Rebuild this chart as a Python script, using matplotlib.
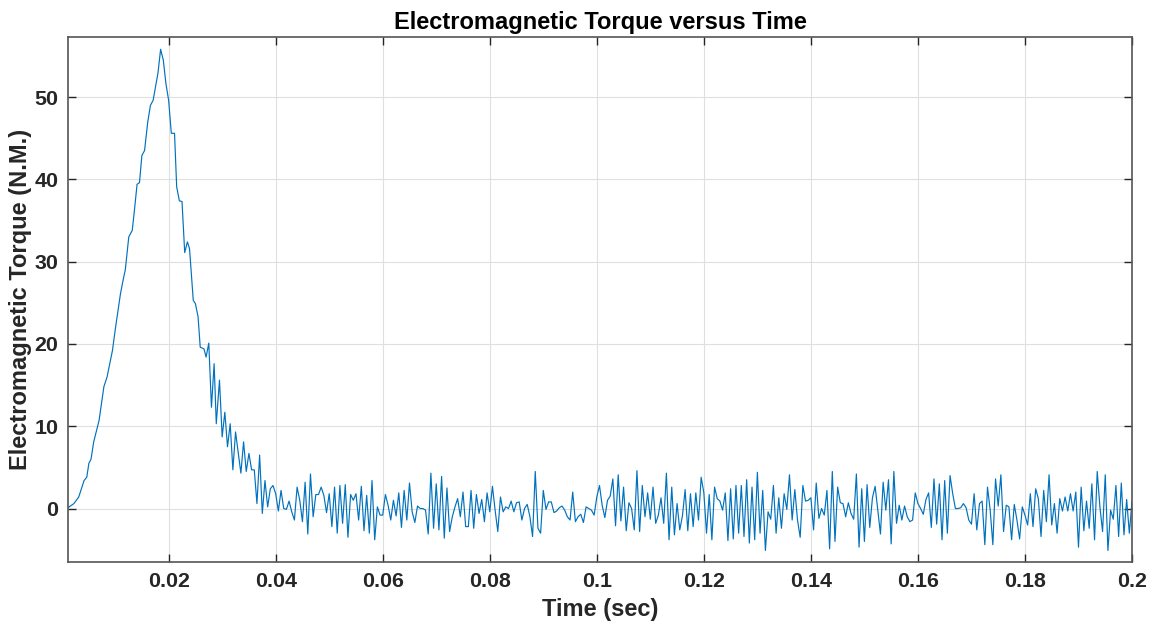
import numpy as np
import matplotlib
matplotlib.use("Agg")
import matplotlib.pyplot as plt
from matplotlib.ticker import FormatStrFormatter

# start-up transient
t_start = [0.0012, 0.0023, 0.0032, 0.0042, 0.0047, 0.0051, 0.0055, 0.0060, 0.0070, 0.0079,
           0.0085, 0.0095, 0.0101, 0.0110, 0.0116, 0.0119, 0.0123, 0.01255, 0.0132, 0.0136,
           0.0141, 0.01455, 0.0150, 0.0155, 0.0161, 0.0166, 0.0171, 0.0180, 0.0185, 0.0190,
           0.0195, 0.0200, 0.0205, 0.0211, 0.0215, 0.0220, 0.0225, 0.0230, 0.0235, 0.0239,
           0.0246, 0.0250, 0.0255, 0.0259, 0.0266, 0.0270, 0.0275, 0.0280, 0.0285, 0.0289,
           0.0295, 0.0300, 0.0305, 0.0310, 0.0315, 0.0320, 0.0325, 0.0335, 0.0340, 0.0345,
           0.0350, 0.0355, 0.0360, 0.0365, 0.0370, 0.0375, 0.0380, 0.0385, 0.0390, 0.0395]
torque_start = [0.1, 0.6, 1.4, 3.4, 3.8, 5.5, 6.0, 8.1, 10.7, 14.8,
                16.0, 19.2, 22.1, 26.1, 28.1, 29.0, 31.4, 33.0, 33.8, 36.2,
                39.4, 39.6, 42.9, 43.5, 47.0, 49.0, 49.6, 52.9, 55.8, 54.5,
                51.6, 49.6, 45.6, 45.6, 39.1, 37.4, 37.3, 31.1, 32.4, 31.6,
                25.3, 24.9, 23.3, 19.6, 19.4, 18.4, 20.1, 12.3, 17.6, 10.3,
                15.6, 8.7, 11.7, 7.5, 10.3, 4.7, 9.3, 4.3, 8.1, 4.5,
                6.7, 4.7, 4.7, 0.6, 6.5, -0.6, 3.4, 0.2, 2.4, 2.8]

# steady-state ripple, one sample every 0.5 ms from t = 0.04 s
dt = 0.0005
t_ripple0 = 0.04
torque_ripple = [
    1.8, -0.3, 2.2, 0, -0.1, 0.9, -0.4, -1.4, 2.6, 1.0, -1.6, 3.2, -3.1, 4.2, -1.0, 1.7,
    1.7, 2.6, 1.6, -0.5, 1.8, -2.2, 2.6, -3.0, 2.8, -1.8, 2.9, -3.5, 1.7, 1.0, 1.8, -1.4,
    2.7, -2.7, 1.6, -3.0, 3.4, -3.8, 0.2, -0.8, -0.8, 1.7, 0.4, -1.4, 1.0, -0.9, 1.9,
    -2.3, 2.2, -1.4, 3.1, -0.4, -1.7, 0.3, 0, 0, -0.2, -3.1, 4.3, -2.4, 3.0, -2.6, 3.9,
    -3.6, 2.5, -2.8, -1.0, 0.2, 1.2, -1.0, 2.0, -2.2, -2.2, 2.2, -2.4, 1.7, -0.6, 1.1,
    -1.6, 1.9, -0.4, 2.7, -0.2, -2.8, 1.4, -0.4, 0.2, 0, 0.9, -0.4, 0.7, 0.8, -1.4, 0,
    0.5, -1.0, -3.4, 4.5, -2.4, -3.0, 2.2, -0.1, 0.8, 0.8, -0.5, -0.3, 0.1, 0.3, -0.2, -1.0,
    -1.4, 2.0, -1.6, -1.0, -0.7, -1.7, 0.2, 0, -0.2, -0.8, 1.4, 2.8, 0.4, -1.1, 1.0, 1.5,
    3.6, -2.1, 4.1, -1.5, 2.6, -2.7, 0.7, 0, -2.6, 4.6, -2.8, 2.8, -1.0, 1.9, -1.3, 2.6,
    -1.8, -0.8, 1.3, -1.8, 4.3, -3.8, 2.6, -3.2, 0.6, -2.6, -0.9, 2.3, -2.7, 1.8, -2.2, 1.9,
    -1.4, 3.8, 1.9, -3.0, 1.7, -3.8, 2.6, 1.2, 0.9, -0.2, 1.9, -3.9, 2.4, -3.7, 2.8, -3.0,
    2.8, -3.4, 3.5, -4.2, 2.6, -3.8, 4.4, -3.0, 2.2, -5.1, -0.4, -1.3, 2.8, -3.0, 1.3, -2.4,
    1.8, -0.1, 4.1, -1.4, 2.3, -1.4, -3.5, 2.8, 0.9, 1.0, 1.3, -2.6, 3.1, -1.2, 0, -0.8,
    2.2, -4.9, 4.5, -4.0, 2.6, 0.7, 0.6, -1.0, 0.7, -0.6, -1.3, 4.2, -4.7, 2.4, -4.0, 2.9,
    -2.3, 1.3, 2.7, -0.2, -3.1, 3.2, -0.2, 3.5, -4.3, 4.5, -1.8, 0.4, -1.4, 0.3, -1.0, -1.6,
    -1.4, 1.9, 0.6, 0, -0.7, 1.1, 1.9, -2.3, 3.6, -1.9, 3.0, -3.8, 3.4, -3.0, 4.0, 1.8,
    0, 0, 0.1, 0.6, 0.1, -1.4, -1.9, 1.8, -2.6, 0.6, 0.9, -4.4, 2.6, -0.2, -4.4, 3.6,
    0.3, 4.1, -2.8, 0.4, 0.2, -3.8, 0.5, -1.4, -3.7, 0.2, -0.8, -2.0, 1.8, -2.2, 2.4, 1.2,
    -3.4, 2.2, -1.6, 4.1, -2.0, 0.6, -3.0, 1.2, -0.3, 1.4, -0.3, 1.8, -0.3, 2.0, -4.7, 2.6,
    -2.7, 0.9, -2.4, 3.0,
    -3.8, 4.5, 0.2, -2.8, 4.1, -5.1, -0.2, -1.3, 2.8, -3.4, 3.1, -3.2, 1.1, -3.0, 0.9, -0.4]

x_ticks = [0.02, 0.04, 0.06, 0.08, 0.1, 0.12, 0.14, 0.16, 0.18, 0.2]
y_ticks = [0, 10, 20, 30, 40, 50]

t_ripple = t_ripple0 + dt * np.arange(len(torque_ripple))
t = np.concatenate([t_start, t_ripple])
torque = np.concatenate([torque_start, torque_ripple])

plt.rcParams["font.family"] = ["Liberation Sans", "DejaVu Sans"]
plt.rcParams["font.weight"] = "bold"

fig = plt.figure(figsize=(11.51, 6.25), dpi=100)
ax = fig.add_axes([0.0591, 0.1008, 0.9244, 0.8400])

ax.plot(t, torque, color="#0072BD", linewidth=0.85)

ax.set_xlim(0.0012, 0.2)
ax.set_ylim(-6.5, 57.3)
ax.set_xticks(x_ticks)
ax.set_yticks(y_ticks)
ax.xaxis.set_major_formatter(FormatStrFormatter("%g"))

ax.grid(True, color="#dfdfdf", linewidth=0.8)
ax.set_axisbelow(True)
ax.tick_params(direction="in", length=6, width=1, top=True, right=True,
               labelsize=15.4, colors="#262626", pad=7)
for s in ax.spines.values():
    s.set_color("#555555")
    s.set_linewidth(1.2)

ax.set_title("Electromagnetic Torque versus Time", fontsize=17, fontweight="bold",
             color="#000000", pad=6)
ax.set_xlabel("Time (sec)", fontsize=17, fontweight="bold", color="#262626", labelpad=5)
ax.set_ylabel("Electromagnetic Torque (N.M.)", fontsize=17, fontweight="bold",
              color="#262626", labelpad=2)

fig.savefig("out.png", dpi=100)
